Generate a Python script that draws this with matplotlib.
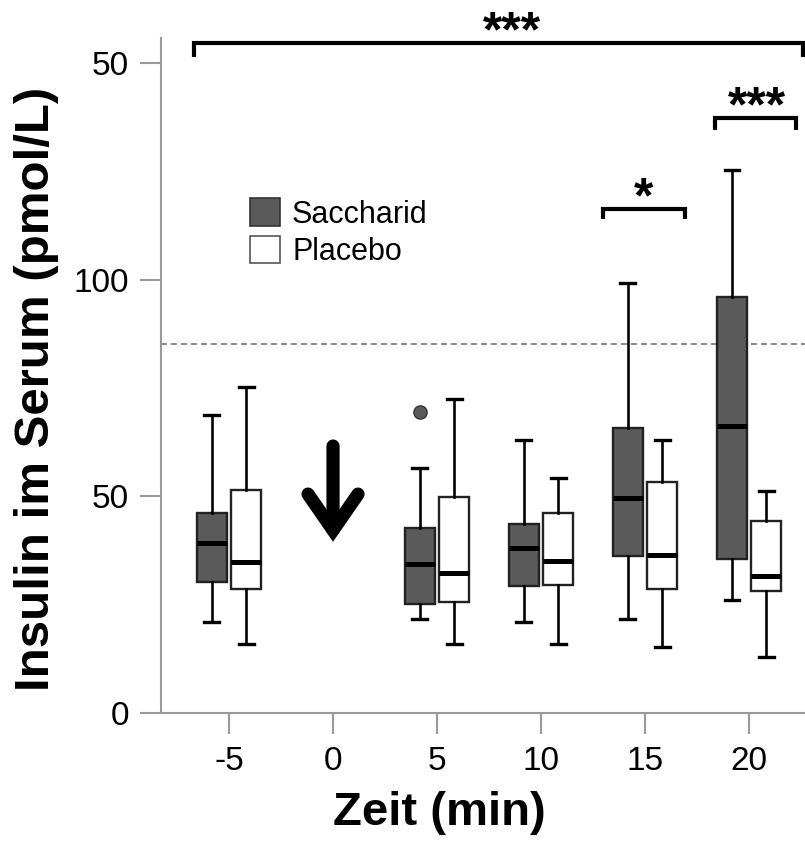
import matplotlib
matplotlib.use('Agg')
import matplotlib.pyplot as plt
from matplotlib.patches import Patch

plt.rcParams['font.family'] = ['Liberation Sans', 'DejaVu Sans']

# Zeitpunkte (min)
times = [-5, 5, 10, 15, 20]
tick_times = [-5, 0, 5, 10, 15, 20]

# Saccharid
sacc_whislo = [20.9, 21.6, 20.9, 21.6, 26.1]
sacc_q1 = [30.3, 25.1, 29.3, 36.2, 35.6]
sacc_med = [39.2, 34.4, 38.0, 49.6, 66.3]
sacc_q3 = [46.1, 42.6, 43.5, 65.8, 95.9]
sacc_whishi = [68.8, 56.5, 62.9, 99.2, 125.3]
sacc_fliers = [[], [69.5], [], [], []]

# Placebo
plac_whislo = [15.8, 15.8, 15.8, 15.2, 12.9]
plac_q1 = [28.6, 25.7, 29.5, 28.6, 28.2]
plac_med = [34.8, 32.2, 35.1, 36.5, 31.5]
plac_q3 = [51.4, 49.9, 46.1, 53.2, 44.2]
plac_whishi = [75.3, 72.4, 54.3, 62.9, 51.3]
plac_fliers = [[], [], [], [], []]

yticks = [0, 50, 100, 150]
ytick_labels = ['0', '50', '100', '50']
ref_line = 85.1

dark = '#5a5a5a'


def make_stats(lo, q1, med, q3, hi, fl):
    return [dict(whislo=a, q1=b, med=c, q3=d, whishi=e, fliers=f)
            for a, b, c, d, e, f in zip(lo, q1, med, q3, hi, fl)]


fig = plt.figure(figsize=(8.05, 8.59), dpi=100)
ax = fig.add_axes([0.2, 0.17, 0.8, 0.786])

off = 0.82
w = 1.42
common = dict(widths=w, patch_artist=True, capwidths=0.72,
              whiskerprops=dict(color='black', lw=1.9),
              capprops=dict(color='black', lw=2.4),
              medianprops=dict(color='black', lw=3.6))

ax.bxp(make_stats(sacc_whislo, sacc_q1, sacc_med, sacc_q3, sacc_whishi, sacc_fliers),
       positions=[t - off for t in times],
       boxprops=dict(facecolor=dark, edgecolor='#222222', lw=1.7),
       flierprops=dict(marker='o', markerfacecolor=dark, markeredgecolor='#333333',
                       markersize=9.5),
       **common)
ax.bxp(make_stats(plac_whislo, plac_q1, plac_med, plac_q3, plac_whishi, plac_fliers),
       positions=[t + off for t in times],
       boxprops=dict(facecolor='white', edgecolor='#222222', lw=1.7),
       **common)

ax.axhline(ref_line, color='#777777', lw=1.2, dashes=(3.5, 2.5), zorder=0)

ax.set_xlim(-8.27, 22.69)
ax.set_ylim(0, 155.8)
ax.set_xticks(tick_times)
ax.set_xticklabels([str(t) for t in tick_times])
ax.set_yticks(yticks)
ax.set_yticklabels(ytick_labels)

for s in ['top', 'right']:
    ax.spines[s].set_visible(False)
for s in ['left', 'bottom']:
    ax.spines[s].set_color('#999999')
    ax.spines[s].set_linewidth(1.5)
ax.tick_params(colors='#999999', width=1.5, length=15, labelsize=24,
               labelcolor='black')
ax.tick_params(axis='y', pad=8)
ax.tick_params(axis='x', pad=9)

ax.set_ylabel('Insulin im Serum (pmol/L)', fontsize=35.5, fontweight='bold')
ax.set_xlabel('Zeit (min)', fontsize=34, fontweight='bold')
ax.yaxis.set_label_coords(-0.158, 0.48)
ax.xaxis.set_label_coords(0.433, -0.115)

# Pfeil bei 0 min
ax.annotate('', xy=(0, 39.5), xytext=(0, 61.6),
            arrowprops=dict(arrowstyle='->, head_length=1.3, head_width=0.9',
                            lw=9.5, color='black', shrinkA=0, shrinkB=0,
                            mutation_scale=20, joinstyle='miter', capstyle='round'))

# Signifikanzklammern
brackets = [(-6.68, 22.6, 154.6, 3.2, '***'),
            (12.98, 16.92, 116.2, 2.3, '*'),
            (18.37, 22.26, 137.2, 2.7, '***')]
for x0, x1, yb, drop, label in brackets:
    ax.plot([x0, x0, x1, x1], [yb - drop, yb, yb, yb - drop], color='black',
            lw=3, clip_on=False, solid_joinstyle='miter', solid_capstyle='butt')
xs_text = [8.6, 14.95, 20.37]
for (x0, x1, yb, drop, label), xt in zip(brackets, xs_text):
    ax.text(xt, yb - 0.7, label, ha='center', va='baseline', fontsize=36,
            fontweight='bold', clip_on=False)

handles = [Patch(facecolor=dark, edgecolor='#333333', lw=1.2, label='Saccharid'),
           Patch(facecolor='white', edgecolor='#555555', lw=1.2, label='Placebo')]
ax.legend(handles=handles, loc='upper left', bbox_to_anchor=(0.138, 0.762),
          frameon=False, fontsize=22, handlelength=0.98, handleheight=1.0,
          handletextpad=0.4, labelspacing=0.2, borderpad=0, borderaxespad=0)

fig.savefig('out.png', dpi=100)
